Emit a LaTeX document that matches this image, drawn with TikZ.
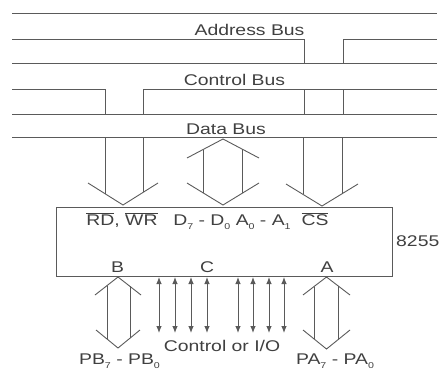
\documentclass[tikz,border=0pt]{standalone}
\usepackage{fontspec}
\setmainfont[FakeStretch=1.25]{Liberation Sans}
\usetikzlibrary{arrows.meta}
\newcommand\lowidx[1]{\raisebox{-0.5ex}{\fontsize{8.5}{9}\selectfont #1}}
\newcommand\ovl[1]{$\overline{\hbox{#1}}$}
\definecolor{linecol}{HTML}{5A5A5A}
\definecolor{textcol}{HTML}{404040}
\begin{document}
\begin{tikzpicture}[x=1pt,y=-1pt,
  ln/.style={draw=linecol,line width=0.9pt},
  lbl/.style={inner sep=0pt,anchor=base,text=textcol,font=\fontsize{15.5}{18}\selectfont},
  dbl/.style={ln,{Latex[length=7pt,width=5.5pt]}-{Latex[length=7pt,width=5.5pt]}}]
\useasboundingbox (0,0) rectangle (439,372);
% buses
\draw[ln] (12,13) -- (437,13);
\draw[ln] (12,39) -- (304,39) -- (304,63);
\draw[ln] (343,63) -- (343,39) -- (437,39);
\draw[ln] (12,63) -- (437,63);
\draw[ln] (12,89) -- (105,89) -- (105,114);
\draw[ln] (143,114) -- (143,89) -- (437,89);
\draw[ln] (304,89) -- (304,114);
\draw[ln] (343,89) -- (343,114);
\draw[ln] (12,114) -- (437,114);
\draw[ln] (12,137) -- (437,137);
\node[lbl] (ab) at (249.5,35) {Address Bus};
\node[lbl] (cb) at (234.5,85.5) {Control Bus};
\node[lbl] (db) at (226,134.5) {Data Bus};
% chip
\node[ln,anchor=north west,inner sep=0pt,minimum width=336pt,minimum height=69pt] (chip) at (56,207) {};
\node[lbl,anchor=base west] (n8255) at (396,246) {8255};
% top arrows
\draw[ln] (105,137) -- (105,193.7);
\draw[ln] (143,137) -- (143,192.4);
\draw[ln] (88,183) -- (123,205) -- (158,183);
\draw[ln] (187,158) -- (223,139) -- (259,158);
\draw[ln] (203,149.6) -- (203,192.8);
\draw[ln] (242,149) -- (242,193.4);
\draw[ln] (187,183) -- (223,205) -- (259,183);
\draw[ln] (303,137) -- (303,194.4);
\draw[ln] (342,137) -- (342,193.8);
\draw[ln] (286,184) -- (322,206) -- (358,184);
% chip labels
\node[lbl] (rdwr) at (122,225) {\ovl{RD}, \ovl{WR}};
\node[lbl] (ddaa) at (232,225) {D\lowidx{7} - D\lowidx{0} A\lowidx{0} - A\lowidx{1}};
\node[lbl] (cs) at (315,225) {\ovl{CS}};
\node[lbl] (pb) at (117.5,272) {B};
\node[lbl] (pc) at (207,272) {C};
\node[lbl] (pa) at (327,272) {A};
% bottom arrows
\draw[ln] (95,295) -- (118,277) -- (141,295);
\draw[ln] (107,285.6) -- (107,339);
\draw[ln] (130,286.4) -- (130,338.2);
\draw[ln] (96,330) -- (118,348) -- (140,330);
\draw[ln] (303,295) -- (326.5,277) -- (350,295);
\draw[ln] (314,286.6) -- (314,338.9);
\draw[ln] (338,285.8) -- (338,339.7);
\draw[ln] (303,330) -- (326.5,349) -- (350,330);
\foreach \xx in {159,175,191,207,238,253,269,284}
  \draw[dbl] (\xx,277) -- (\xx,333);
\node[lbl] (cio) at (222,351) {Control or I/O};
\node[lbl] (pbl) at (119.5,364) {PB\lowidx{7} - PB\lowidx{0}};
\node[lbl] (pal) at (335,364) {PA\lowidx{7} - PA\lowidx{0}};
\end{tikzpicture}
\end{document}
